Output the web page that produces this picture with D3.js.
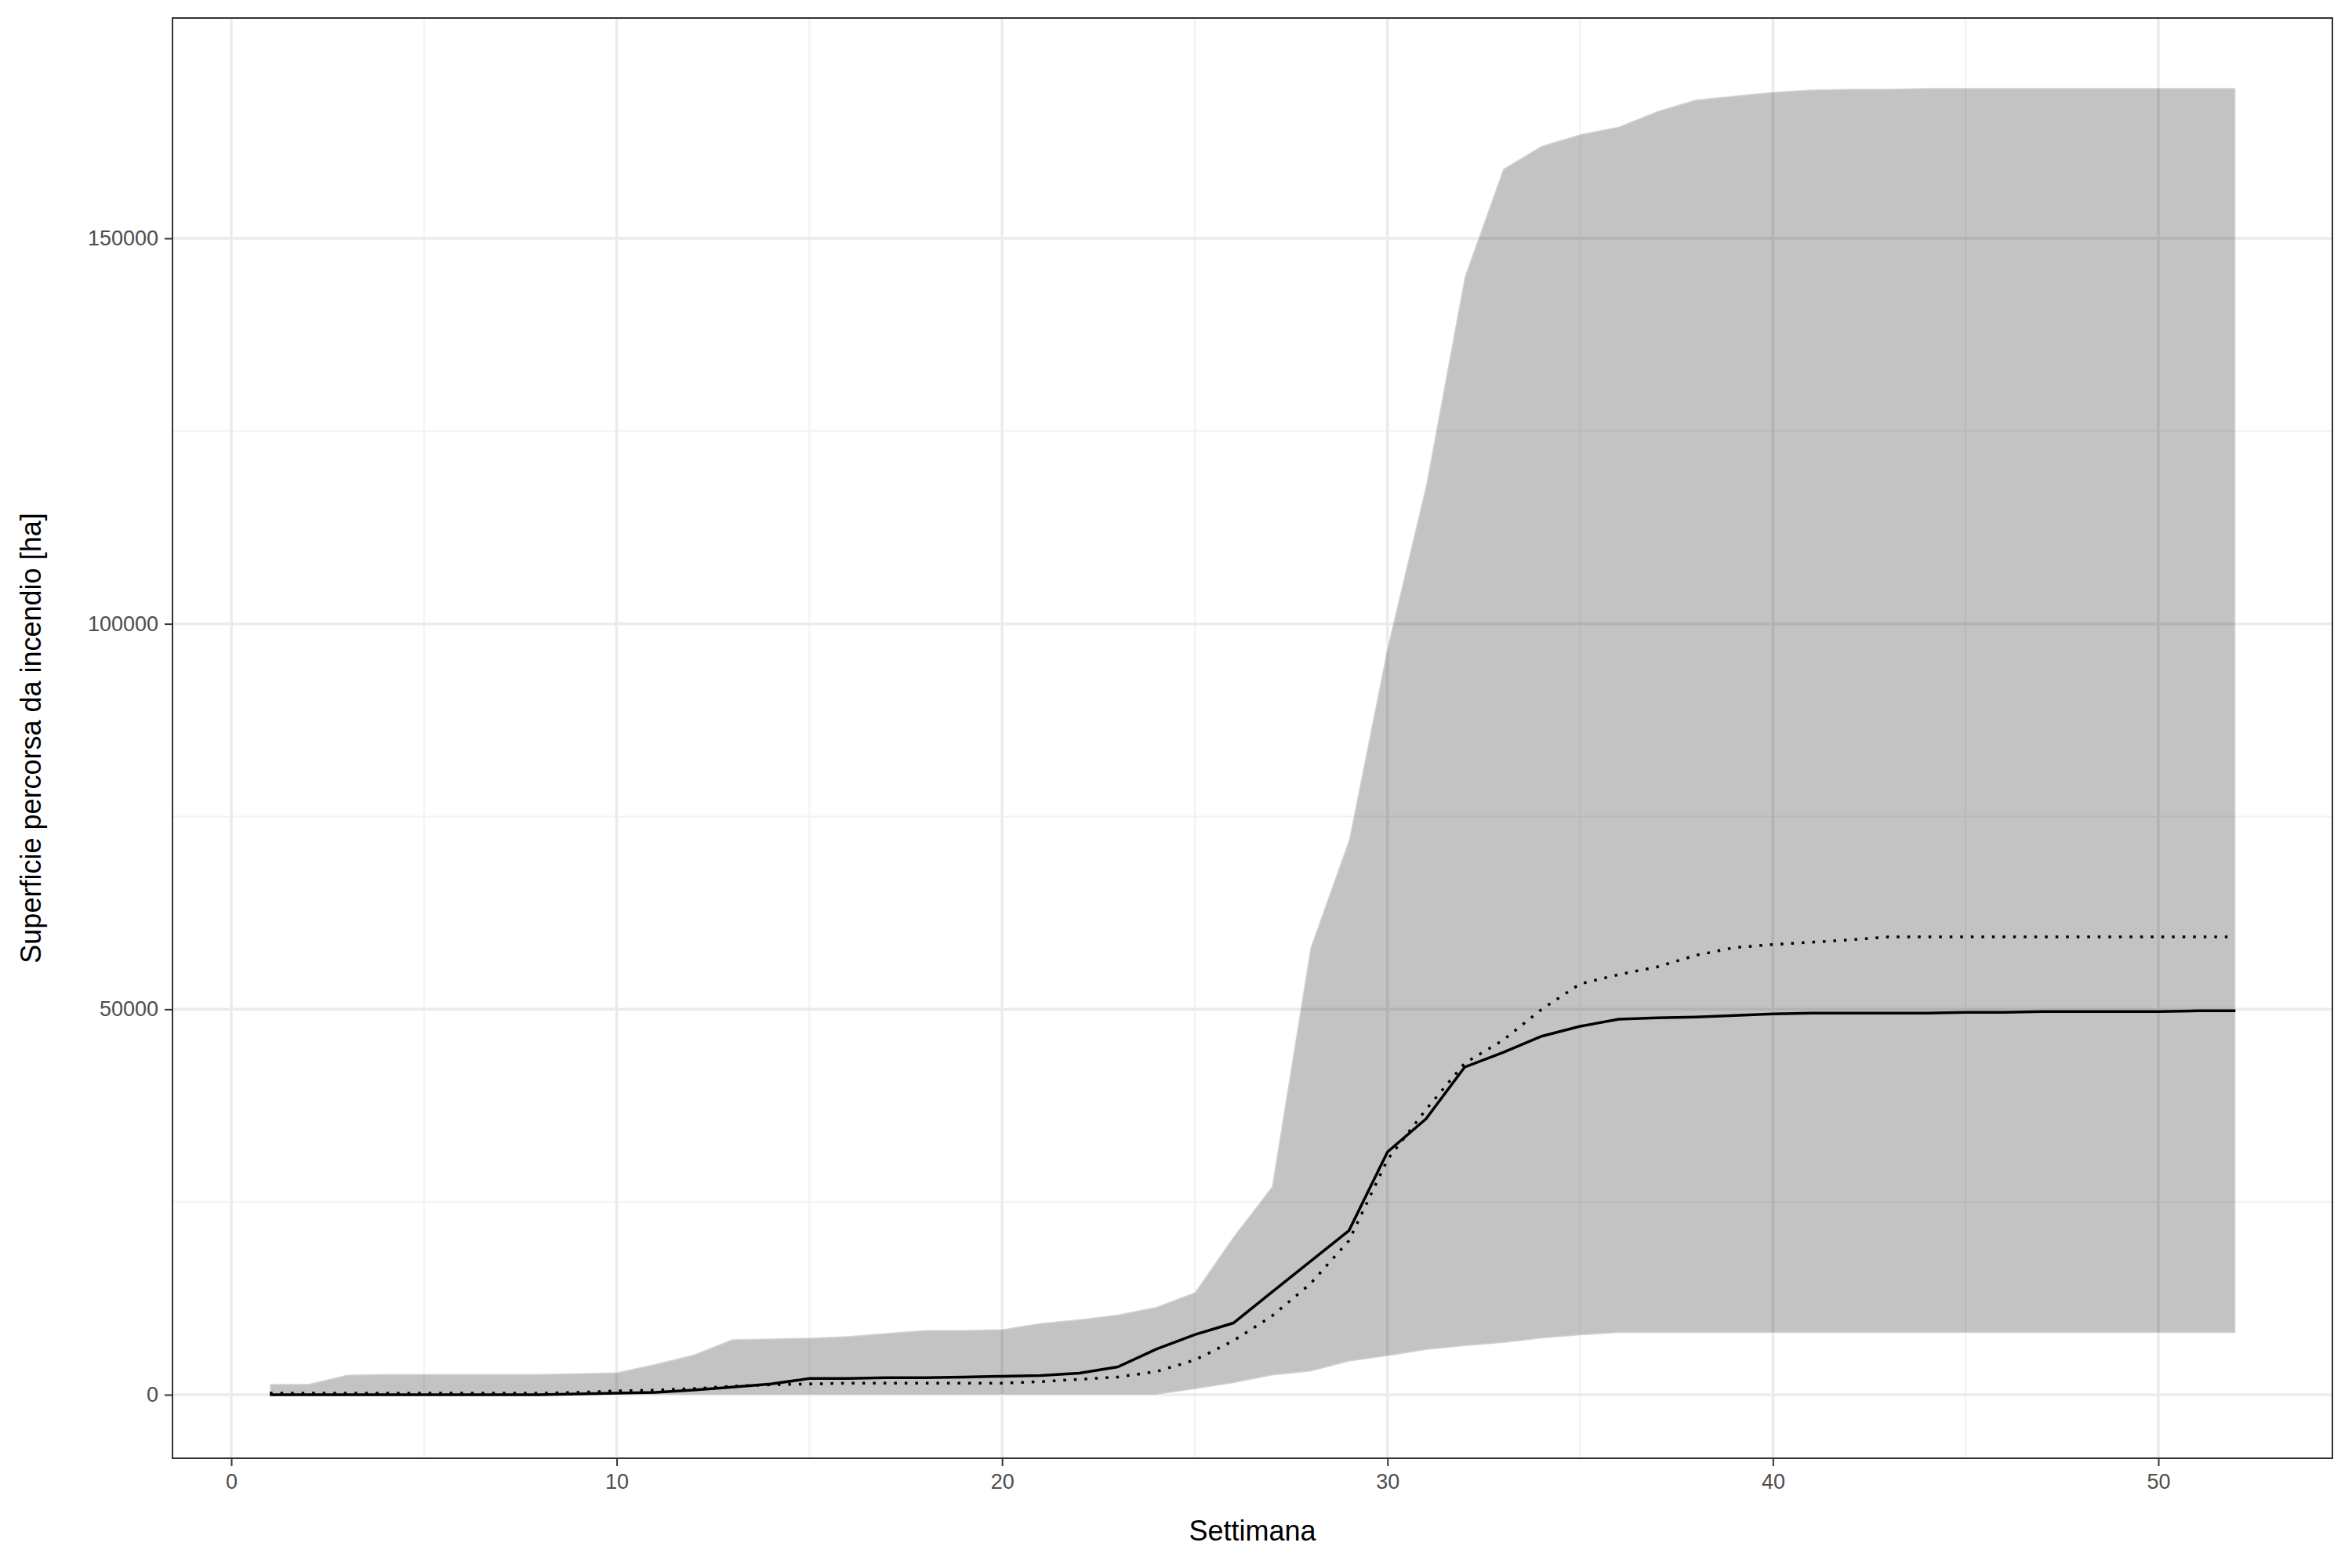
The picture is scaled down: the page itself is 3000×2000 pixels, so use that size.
<!DOCTYPE html>
<html><head><meta charset="utf-8">
<script src="https://cdn.jsdelivr.net/npm/d3@7"></script>
<style>body{margin:0;background:#fff}</style></head>
<body><svg id="c" width="3000" height="2000"></svg>
<script>
const weeks = d3.range(1,53);
const upper = [1400,1400,2600,2700,2700,2700,2700,2700,2800,2900,4000,5200,7200,7300,7400,7600,8000,8400,8400,8500,9300,9800,10400,11400,13300,20500,27000,58000,72000,97000,118000,145000,159000,162000,163500,164500,166500,168000,168500,169000,169300,169400,169400,169500,169500,169500,169500,169500,169500,169500,169500,169500];
const lower = [0,0,0,0,0,0,0,0,0,0,0,0,0,0,0,0,0,0,0,0,0,0,0,0,700,1500,2500,3000,4300,5000,5800,6300,6700,7300,7700,8000,8000,8000,8000,8000,8000,8000,8000,8000,8000,8000,8000,8000,8000,8000,8000,8000];
const median = [0,0,0,0,0,0,0,0,100,200,300,600,1000,1400,2100,2100,2200,2200,2300,2400,2500,2800,3600,5900,7800,9300,13300,17300,21300,31500,35800,42500,44400,46500,47800,48700,48900,49000,49200,49400,49500,49500,49500,49500,49600,49600,49700,49700,49700,49700,49800,49800];
const mean = [200,200,200,200,200,200,200,200,300,500,600,800,1100,1300,1400,1500,1500,1500,1500,1500,1700,2000,2300,3000,4500,7000,10200,14400,20000,30500,37000,43000,46000,50000,53300,54500,55500,57000,58000,58400,58700,59000,59400,59400,59400,59400,59400,59400,59400,59400,59400,59400];
const xTicks = [0,10,20,30,40,50];
const yTicks = [0,50000,100000,150000];

const svg = d3.select("#c");
const L=220,R=2975,T=23,B=1860;
const x = d3.scaleLinear().domain([0,50]).range([295,2753]);
const y = d3.scaleLinear().domain([0,150000]).range([1779,304]);
const g = svg.append("g");
// minor grid
d3.range(5,55,10).forEach(v=>g.append("line").attr("x1",x(v)).attr("x2",x(v)).attr("y1",T).attr("y2",B).attr("stroke","#f2f2f2").attr("stroke-width",2));
d3.range(25000,175000,50000).forEach(v=>g.append("line").attr("x1",L).attr("x2",R).attr("y1",y(v)).attr("y2",y(v)).attr("stroke","#f2f2f2").attr("stroke-width",2));
xTicks.forEach(v=>g.append("line").attr("x1",x(v)).attr("x2",x(v)).attr("y1",T).attr("y2",B).attr("stroke","#ebebeb").attr("stroke-width",3.5));
yTicks.forEach(v=>g.append("line").attr("x1",L).attr("x2",R).attr("y1",y(v)).attr("y2",y(v)).attr("stroke","#ebebeb").attr("stroke-width",3.5));

const data = weeks.map((w,i)=>({w,lo:lower[i],hi:upper[i],md:median[i],mn:mean[i]}));
g.append("path").datum(data).attr("d",d3.area().x(d=>x(d.w)).y0(d=>y(d.lo)).y1(d=>y(d.hi)))
 .attr("fill","rgba(0,0,0,0.235)").attr("stroke","rgba(255,255,255,0.25)").attr("stroke-width",3);
g.append("path").datum(data).attr("d",d3.line().x(d=>x(d.w)).y(d=>y(d.md)))
 .attr("fill","none").attr("stroke","#000").attr("stroke-width",3.5);
g.append("path").datum(data).attr("d",d3.line().x(d=>x(d.w)).y(d=>y(d.mn)))
 .attr("fill","none").attr("stroke","#000").attr("stroke-width",3.5).attr("stroke-dasharray","3.5 10");

g.append("rect").attr("x",L).attr("y",T).attr("width",R-L).attr("height",B-T).attr("fill","none").attr("stroke","#333").attr("stroke-width",2);

const xa = svg.append("g").attr("transform",`translate(0,${B})`).call(d3.axisBottom(x).tickValues(xTicks).tickSize(10).tickPadding(10));
const ya = svg.append("g").attr("transform",`translate(${L},0)`).call(d3.axisLeft(y).tickValues(yTicks).tickFormat(d3.format("d")).tickSize(10).tickPadding(8));
[xa,ya].forEach(a=>{a.select(".domain").remove();a.selectAll("line").attr("stroke","#333").attr("stroke-width",2);
 a.selectAll("text").attr("fill","#4d4d4d").style("font-family","Liberation Sans, Arial, sans-serif").style("font-size","27px");});
svg.append("text").attr("x",(L+R)/2).attr("y",1965).attr("text-anchor","middle").style("font-family","Liberation Sans, Arial, sans-serif").style("font-size","36px").text("Settimana");
svg.append("text").attr("transform",`translate(52,${(T+B)/2}) rotate(-90)`).attr("text-anchor","middle").style("font-family","Liberation Sans, Arial, sans-serif").style("font-size","36px").text("Superficie percorsa da incendio [ha]");
</script></body></html>
